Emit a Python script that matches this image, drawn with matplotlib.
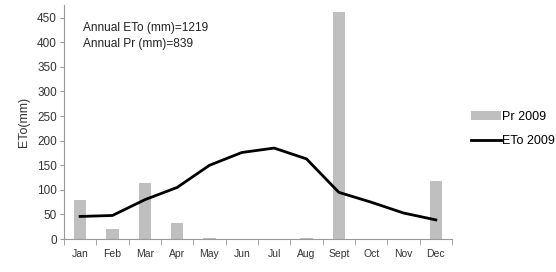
import numpy as np
import matplotlib
matplotlib.use('Agg')
import matplotlib.pyplot as plt

# ── Data ───────────────────────────────────────────────────────────────────────
months = ["Jan", "Feb", "Mar", "Apr", "May", "Jun",
          "Jul", "Aug", "Sept", "Oct", "Nov", "Dec"]
pr_2009  = [80, 20, 113, 32, 2, 0, 1, 2, 462, 0, 1, 119]
eto_2009 = [46, 48, 80, 105, 150, 176, 185, 163, 95, 75, 53, 39]
y_ticks  = list(range(0, 451, 50))

plt.rcParams['font.family'] = ['Liberation Sans', 'DejaVu Sans']

fig = plt.figure(figsize=(5.56, 2.72), dpi=100, facecolor='white')
ax = fig.add_axes([0.115, 0.121, 0.698, 0.861])

x = np.arange(len(months))
bars = ax.bar(x, pr_2009, width=0.38, color='#bfbfbf', label='Pr 2009', zorder=2)
line, = ax.plot(x, eto_2009, color='black', lw=2.0, label='ETo 2009', zorder=3)

ax.set_xlim(-0.5, len(months) - 0.5)
ax.set_ylim(0, 476)
ax.set_yticks(y_ticks)
ax.tick_params(axis='y', labelsize=8.5, length=3, color='#999999',
               labelcolor='#333333', pad=2)

ax.set_xticks(x)
ax.set_xticklabels(months)
ax.set_xticks(np.arange(-0.5, len(months)), minor=True)
ax.tick_params(axis='x', which='major', length=0, labelsize=7.5,
               labelcolor='#333333', pad=7)
ax.tick_params(axis='x', which='minor', length=4, color='#999999')

for side in ('top', 'right'):
    ax.spines[side].set_visible(False)
for side in ('left', 'bottom'):
    ax.spines[side].set_color('#999999')
    ax.spines[side].set_linewidth(0.8)

ax.set_ylabel('ETo(mm)', fontsize=9, color='#333333', labelpad=5)

ax.text(0.05, 0.925, 'Annual ETo (mm)=1219\nAnnual Pr (mm)=839',
        transform=ax.transAxes, fontsize=8.6, va='top', ha='left',
        linespacing=1.35, color='#222222')

ax.legend([bars, line], ['Pr 2009', 'ETo 2009'],
          loc='center left', bbox_to_anchor=(1.02, 0.47), frameon=False,
          fontsize=9, handlelength=2.4, handletextpad=0.1,
          labelspacing=1.0)

plt.savefig('out.png', dpi=100, facecolor='white')
plt.close()
